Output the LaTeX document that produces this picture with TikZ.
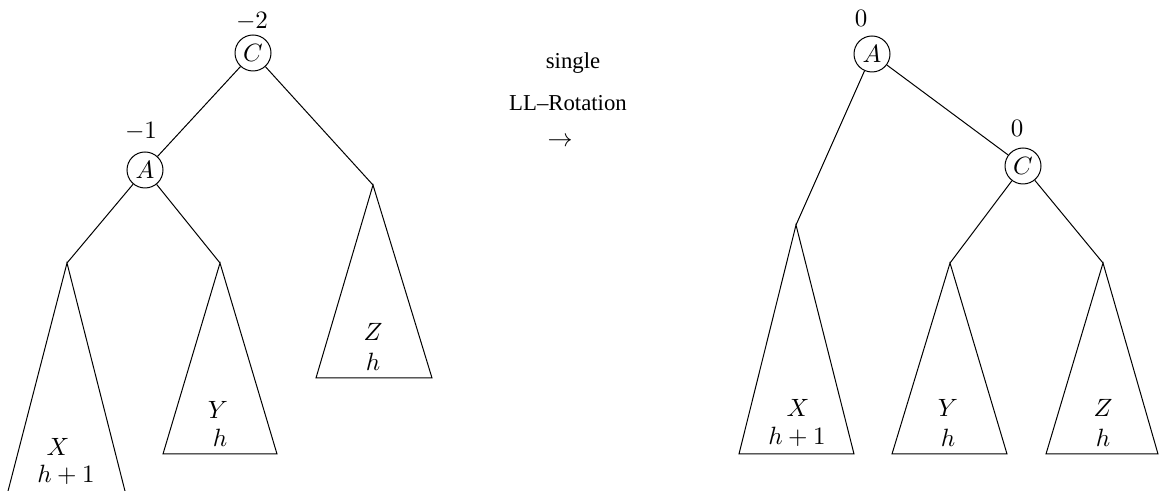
\documentclass[tikz,border=0pt]{standalone}
\usepackage{fontspec}
\newfontfamily\tms[Ligatures=TeX]{Liberation Serif}
\begin{document}
\begin{tikzpicture}[x=0.4pt,y=-0.4pt, line width=0.4pt,
  bnode/.style={circle,draw,minimum size=14.4pt,inner sep=0pt},
  lbl/.style={inner sep=0pt},
  tri/.style={draw,line join=miter},
  mid/.style={inner sep=0pt,font=\tms\fontsize{9.1}{11}\selectfont}]
\useasboundingbox (0,0) rectangle (1159,491);
% ---------- left tree ----------
\node[bnode] (C1) at (253,53) {$C$};
\node[lbl] (bC1) at (252,21) {$-2$};
\node[bnode] (A1) at (145,170) {$A$};
\node[lbl] (bA1) at (141,131) {$-1$};
\coordinate (x1) at (67,263);
\coordinate (y1) at (220,263);
\coordinate (z1) at (373,185);
\draw (C1) -- (A1);
\draw (C1) -- (z1);
\draw (A1) -- (x1);
\draw (A1) -- (y1);
\coordinate (x1l) at (7,495);
\coordinate (x1r) at (126,495);
\draw[tri] (x1) -- (x1l) -- (x1r) -- cycle;
\coordinate (y1l) at (163,454);
\coordinate (y1r) at (277,454);
\draw[tri] (y1) -- (y1l) -- (y1r) -- cycle;
\coordinate (z1l) at (316,378);
\coordinate (z1r) at (432,378);
\draw[tri] (z1) -- (z1l) -- (z1r) -- cycle;
\node[lbl] (tX1) at (58,447) {$X$};
\node[lbl] (tX1h) at (66,475) {$h+1$};
\node[lbl] (tY1) at (218,410) {$Y$};
\node[lbl] (tY1h) at (220,438) {$h$};
\node[lbl] (tZ1) at (373,332) {$Z$};
\node[lbl] (tZ1h) at (373,362) {$h$};
% ---------- middle ----------
\node[mid] (m1) at (573,63) {single};
\node[mid] (m2) at (568,103) {LL–Rotation};
\node[lbl] (m3) at (560,142) {$\rightarrow$};
% ---------- right tree ----------
\node[bnode] (A2) at (872,54) {$A$};
\node[lbl] (bA2) at (861,18) {$0$};
\node[bnode] (C2) at (1023,166) {$C$};
\node[lbl] (bC2) at (1017,128) {$0$};
\coordinate (x2) at (796,225);
\coordinate (y2) at (950,263);
\coordinate (z2) at (1103,263);
\draw (A2) -- (C2);
\draw (A2) -- (x2);
\draw (C2) -- (y2);
\draw (C2) -- (z2);
\coordinate (x2l) at (739,454);
\coordinate (x2r) at (854,454);
\draw[tri] (x2) -- (x2l) -- (x2r) -- cycle;
\coordinate (y2l) at (892,454);
\coordinate (y2r) at (1007,454);
\draw[tri] (y2) -- (y2l) -- (y2r) -- cycle;
\coordinate (z2l) at (1046,454);
\coordinate (z2r) at (1158,454);
\draw[tri] (z2) -- (z2l) -- (z2r) -- cycle;
\node[lbl] (tX2) at (798,408) {$X$};
\node[lbl] (tX2h) at (797,437) {$h+1$};
\node[lbl] (tY2) at (948,408) {$Y$};
\node[lbl] (tY2h) at (948,438) {$h$};
\node[lbl] (tZ2) at (1103,408) {$Z$};
\node[lbl] (tZ2h) at (1103,438) {$h$};
\end{tikzpicture}
\end{document}
